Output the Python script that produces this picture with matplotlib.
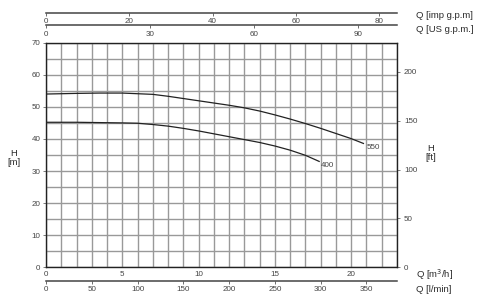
import numpy as np
import matplotlib
matplotlib.use("Agg")
import matplotlib.pyplot as plt

plt.rcParams['font.family'] = ['Liberation Sans', 'DejaVu Sans']

# pump curves, Q in m3/h, H in m
q550 = [0, 2, 3.5, 5, 7, 8, 9, 10, 11, 12, 13, 14, 15, 16, 17, 18, 19, 20, 20.8]
h550 = [54.0, 54.2, 54.3, 54.3, 53.9, 53.3, 52.6, 51.9, 51.2, 50.5, 49.7, 48.7,
        47.5, 46.2, 44.8, 43.3, 41.7, 40.1, 38.6]
q400 = [0, 2, 3.5, 5, 6, 7, 8, 9, 10, 11, 12, 13, 14, 15, 16, 17, 17.9]
h400 = [45.2, 45.2, 45.1, 45.0, 44.9, 44.5, 44.0, 43.3, 42.5, 41.6, 40.7, 39.8,
        38.9, 37.8, 36.5, 34.9, 33.0]

m_ticks = [0, 10, 20, 30, 40, 50, 60, 70]
ft_ticks = [0, 50, 100, 150, 200]
m3h_ticks = [0, 5, 10, 15, 20]
lmin_ticks = [0, 50, 100, 150, 200, 250, 300, 350]
imp_ticks = [0, 20, 40, 60, 80]
us_ticks = [0, 30, 60, 90]

IMP = 3.6662   # imp gpm per m3/h
US = 4.4029    # US gpm per m3/h
LMIN = 1000 / 60.0
FT = 3.28084

W, H = 480, 298
fig = plt.figure(figsize=(W / 100, H / 100), dpi=100)
x0, x1, y0, y1 = 46, 397, 42.7, 267.3
ax = fig.add_axes([x0 / W, 1 - y1 / H, (x1 - x0) / W, (y1 - y0) / H])

tc = '#444444'
fs = 5.8

ax.set_xlim(0, 23)
ax.set_ylim(0, 70)
ax.set_xticks(np.arange(0, 24, 1), minor=True)
ax.set_yticks(np.arange(0, 71, 5), minor=True)
ax.set_xticks(m3h_ticks)
ax.set_yticks(m_ticks)
ax.grid(which='both', color='#999999', lw=1.0)
ax.set_axisbelow(True)
for s in ax.spines.values():
    s.set_color('#222222')
    s.set_linewidth(1.0)
ax.tick_params(which='minor', length=0)
ax.tick_params(axis='y', which='major', length=2, width=0.6, pad=2,
               labelsize=fs, labelcolor=tc, color='#666666')
ax.tick_params(axis='x', which='major', length=0, pad=3,
               labelsize=fs, labelcolor=tc)

ax.plot(q550, h550, color='#222222', lw=0.9)
ax.plot(q400, h400, color='#222222', lw=0.9)
ax.text(21.0, 37.3, '550', fontsize=fs, color=tc, va='center', ha='left')
ax.text(18.0, 31.6, '400', fontsize=fs, color=tc, va='center', ha='left')

# right axis in feet
axr = ax.secondary_yaxis('right', functions=(lambda h: h * FT, lambda f: f / FT))
axr.set_yticks(ft_ticks)
axr.spines['right'].set_visible(False)
axr.tick_params(length=2, width=0.6, pad=3, labelsize=fs, labelcolor=tc, color='#666666')


def flow_axis(ypix, factor, ticks):
    a = fig.add_axes([x0 / W, 1 - ypix / H, (x1 - x0) / W, 1e-6])
    a.set_xlim(0, 23 * factor)
    a.set_xticks(ticks)
    a.set_yticks([])
    for k in ['top', 'left', 'right']:
        a.spines[k].set_visible(False)
    a.spines['bottom'].set_color('#444444')
    a.spines['bottom'].set_linewidth(1.1)
    a.patch.set_visible(False)
    a.tick_params(axis='x', length=2.5, width=0.6, pad=1.5,
                  labelsize=fs, labelcolor=tc, color='#555555')
    return a


flow_axis(12.5, IMP, imp_ticks)
flow_axis(25.0, US, us_ticks)
flow_axis(280.7, LMIN, lmin_ticks)

lfs = 6.8
lc = '#2a2a2a'
fig.text(416 / W, 1 - 15 / H, 'Q [imp g.p.m]', fontsize=lfs, color=lc, va='center')
fig.text(416 / W, 1 - 30 / H, 'Q [US g.p.m.]', fontsize=lfs, color=lc, va='center')
fig.text(416 / W, 1 - 275 / H, 'Q [m$^3$/h]', fontsize=lfs, color=lc, va='center')
fig.text(416 / W, 1 - 289 / H, 'Q [l/min]', fontsize=lfs, color=lc, va='center')
fig.text(14 / W, 1 - 158 / H, 'H\n[m]', fontsize=lfs, color=lc,
         va='center', ha='center', linespacing=1.1)
fig.text(431 / W, 1 - 153 / H, 'H\n[ft]', fontsize=lfs, color=lc,
         va='center', ha='center', linespacing=1.1)

fig.savefig('out.png', dpi=100)
